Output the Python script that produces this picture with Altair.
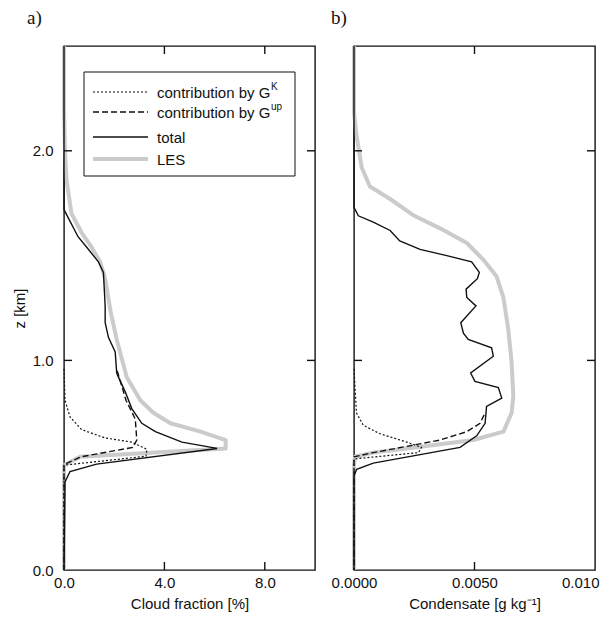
import altair as alt
import pandas as pd

# ---------------- Panel a: cloud fraction [%] vs z [km] ----------------
a_les_z = [2.50, 2.20, 2.00, 1.86, 1.70, 1.61, 1.54, 1.47, 1.39, 1.23, 1.10, 0.92, 0.81,
           0.75, 0.70, 0.66, 0.62, 0.58, 0.54, 0.50, 0.00]
a_les_v = [0.00, 0.00, 0.04, 0.10, 0.30, 0.70, 1.10, 1.44, 1.64, 1.86, 2.10, 2.50, 3.04,
           3.56, 4.24, 5.44, 6.44, 6.44, 0.64, 0.00, 0.00]

a_tot_z = [2.50, 1.72, 1.68, 1.59, 1.53, 1.47, 1.42, 1.35, 1.26, 1.18, 1.11, 1.04, 0.94,
           0.92, 0.85, 0.77, 0.70, 0.66, 0.61, 0.58, 0.505, 0.47, 0.42, 0.00]
a_tot_v = [0.00, 0.00, 0.17, 0.56, 0.97, 1.37, 1.57, 1.60, 1.64, 1.64, 1.77, 2.04, 2.10,
           2.17, 2.44, 2.70, 3.10, 3.64, 4.70, 6.10, 1.30, 0.24, 0.04, 0.00]

a_gup_z = [0.95, 0.81, 0.72, 0.62, 0.585, 0.54, 0.505, 0.50, 0.00]
a_gup_v = [2.12, 2.47, 2.84, 2.90, 2.74, 0.68, 0.04, 0.00, 0.00]

a_gk_z = [0.96, 0.81, 0.73, 0.67, 0.63, 0.61, 0.576, 0.543, 0.50, 0.00]
a_gk_v = [0.00, 0.04, 0.24, 0.70, 1.64, 2.70, 3.30, 3.27, 0.00, 0.00]

# ---------------- Panel b: condensate [g/kg] vs z [km] ----------------
b_les_z = [2.50, 2.18, 2.07, 1.92, 1.83, 1.77, 1.69, 1.63, 1.56, 1.48, 1.40, 1.30, 1.15,
           0.99, 0.83, 0.75, 0.66, 0.62, 0.60, 0.58, 0.56, 0.54, 0.50, 0.00]
b_les_v = [0.0, 0.0, 0.00011, 0.00032, 0.00066, 0.00150, 0.00250, 0.00357, 0.00468,
           0.00537, 0.00592, 0.00620, 0.00640, 0.00654, 0.00661, 0.00654, 0.00620,
           0.00495, 0.00357, 0.00219, 0.00079, 0.00004, 0.0, 0.0]

b_tot_z = [2.50, 1.73, 1.69, 1.66, 1.62, 1.57, 1.53, 1.50, 1.47, 1.42, 1.39, 1.34, 1.30,
           1.26, 1.18, 1.13, 1.10, 1.06, 1.02, 0.94, 0.90, 0.87, 0.82, 0.78, 0.70, 0.64,
           0.585, 0.51, 0.48, 0.45, 0.00]
b_tot_v = [0.0, 0.0, 0.00018, 0.00080, 0.00150, 0.00190, 0.00274, 0.00385, 0.00488,
           0.00520, 0.00512, 0.00465, 0.00468, 0.00506, 0.00443, 0.00454, 0.00474,
           0.00571, 0.00578, 0.00484, 0.00502, 0.00599, 0.00613, 0.00550, 0.00544,
           0.00509, 0.00440, 0.00080, 0.00011, 0.0, 0.0]

b_gup_z = [0.74, 0.70, 0.66, 0.62, 0.59, 0.56, 0.54, 0.00]
b_gup_v = [0.00540, 0.00523, 0.00468, 0.00357, 0.00219, 0.00080, 0.0, 0.0]

b_gk_z = [0.96, 0.75, 0.69, 0.65, 0.61, 0.585, 0.56, 0.53, 0.00]
b_gk_v = [0.0, 0.00010, 0.00039, 0.00108, 0.00220, 0.00280, 0.00267, 0.0, 0.0]

# ticks / labels
z_tick_values = [0.0, 1.0, 2.0]
z_inner_ticks = [1.0, 2.0]
a_tick_values = [0.0, 4.0, 8.0]
a_inner_ticks = [4.0, 8.0]
b_tick_values = [0.0, 0.005, 0.010]
b_inner_ticks = [0.005]

legend_labels = ["contribution by G", "contribution by G", "total", "LES"]
legend_sups = ["K", "up", "", ""]

FONT = "Liberation Sans"
W_A, W_B, H = 251, 241, 524
GRAY = "#cbcbcb"
BLACK = "#111111"


def sdf(name, zs, vs):
    return pd.DataFrame({"series": name, "z": zs, "v": vs, "i": list(range(len(zs)))})


df_a = pd.concat([sdf("LES", a_les_z, a_les_v), sdf("total", a_tot_z, a_tot_v),
                  sdf("gup", a_gup_z, a_gup_v), sdf("gk", a_gk_z, a_gk_v)])
df_b = pd.concat([sdf("LES", b_les_z, b_les_v), sdf("total", b_tot_z, b_tot_v),
                  sdf("gup", b_gup_z, b_gup_v), sdf("gk", b_gk_z, b_gk_v)])

y_scale = alt.Scale(domain=[0, 2.5], nice=False, zero=False)
ya = alt.Y("z:Q", scale=y_scale,
           axis=alt.Axis(values=z_tick_values, format=".1f", title="z [km]",
                         ticks=False, domain=False, grid=False, labelPadding=11,
                         labelFlush=False, titlePadding=5))
yb = alt.Y("z:Q", scale=y_scale, axis=None)
xa = alt.X("v:Q", scale=alt.Scale(domain=[0, 10], nice=False, zero=False),
           axis=alt.Axis(values=a_tick_values, format=".1f", title="Cloud fraction [%]",
                         ticks=False, domain=False, grid=False, labelPadding=5,
                         labelFlush=False, titlePadding=6))
xb = alt.X("v:Q", scale=alt.Scale(domain=[0, 0.010], nice=False, zero=False),
           axis=alt.Axis(values=b_tick_values, format=".4f",
                         labelExpr="datum.value >= 0.0099 ? '0.010' : datum.label",
                         labelAlign={"condition": {"test": "datum.value >= 0.0099",
                                                   "value": "right"},
                                     "value": "center"},
                         labelOffset={"condition": {"test": "datum.value >= 0.0099",
                                                    "value": 4},
                                      "value": 0},
                         title="Condensate [g kg⁻¹]",
                         ticks=False, domain=False, grid=False, labelPadding=5,
                         labelFlush=False, titlePadding=6))

one = pd.DataFrame({"d": [0]})


def panel(df, x, y, w, inner_x, label, label_dx, legend=False):
    base = alt.Chart(df).encode(x=x, y=y, order="i:Q")
    les = base.transform_filter(alt.datum.series == "LES").mark_line(
        color=GRAY, strokeWidth=4, strokeJoin="round")
    tot = base.transform_filter(alt.datum.series == "total").mark_line(
        color=BLACK, strokeWidth=1.4)
    gup = base.transform_filter(alt.datum.series == "gup").mark_line(
        color=BLACK, strokeWidth=1.4, strokeDash=[6, 3])
    gk = base.transform_filter(alt.datum.series == "gk").mark_line(
        color=BLACK, strokeWidth=1.2, strokeDash=[2, 2])

    ydf = pd.DataFrame({"z": z_inner_ticks})
    xdf = pd.DataFrame({"v": inner_x})
    tl = alt.Chart(ydf).mark_rule(color=BLACK, strokeWidth=1.4).encode(
        y=y, x=alt.value(0), x2=alt.value(8))
    tr = alt.Chart(ydf).mark_rule(color=BLACK, strokeWidth=1.4).encode(
        y=y, x=alt.value(w - 8), x2=alt.value(w))
    tb = alt.Chart(xdf).mark_rule(color=BLACK, strokeWidth=1.4).encode(
        x=x, y=alt.value(H - 8), y2=alt.value(H))
    tt = alt.Chart(xdf).mark_rule(color=BLACK, strokeWidth=1.4).encode(
        x=x, y=alt.value(0), y2=alt.value(8))

    lab = alt.Chart(one).mark_text(text=label, font="Liberation Serif", fontSize=19,
                                   align="left", baseline="alphabetic",
                                   color=BLACK).encode(
        x=alt.value(label_dx), y=alt.value(-22))

    layers = [les, tot, gup, gk, tl, tr, tb, tt, lab]

    if legend:
        box = alt.Chart(one).mark_rect(fill="white", stroke=BLACK, strokeWidth=1).encode(
            x=alt.value(20), x2=alt.value(231), y=alt.value(26), y2=alt.value(130))
        layers.append(box)
        rows_y = [46, 66, 91, 113]
        styles = [dict(strokeDash=[2, 2], strokeWidth=1.2, color=BLACK),
                  dict(strokeDash=[6, 3], strokeWidth=1.4, color=BLACK),
                  dict(strokeWidth=1.4, color=BLACK),
                  dict(strokeWidth=4, color=GRAY)]
        for k in range(4):
            layers.append(alt.Chart(one).mark_rule(**styles[k]).encode(
                x=alt.value(29), x2=alt.value(84), y=alt.value(rows_y[k])))
            layers.append(alt.Chart(one).mark_text(
                text=legend_labels[k], font=FONT, fontSize=15, align="left",
                baseline="middle", color=BLACK).encode(
                x=alt.value(93), y=alt.value(rows_y[k] + 1)))
            if legend_sups[k]:
                layers.append(alt.Chart(one).mark_text(
                    text=legend_sups[k], font=FONT, fontSize=10, align="left",
                    baseline="middle", color=BLACK).encode(
                    x=alt.value(93 + 114), y=alt.value(rows_y[k] - 5)))

    return alt.layer(*layers).properties(width=w, height=H)


pa = panel(df_a, xa, ya, W_A, a_inner_ticks, "a)", -37, legend=True)
pb = panel(df_b, xb, yb, W_B, b_inner_ticks, "b)", -23)

chart = alt.hconcat(pa, pb, spacing=39, bounds="flush").properties(
    padding={"left": 3, "top": 0, "right": 0, "bottom": 5}
).configure_view(stroke=BLACK, strokeWidth=1.4).configure_axis(
    labelFont=FONT, labelFontSize=15, labelColor=BLACK,
    titleFont=FONT, titleFontSize=15, titleFontWeight="normal", titleColor=BLACK
)

chart.save("out.html", embed_options={"renderer": "svg", "actions": False})
